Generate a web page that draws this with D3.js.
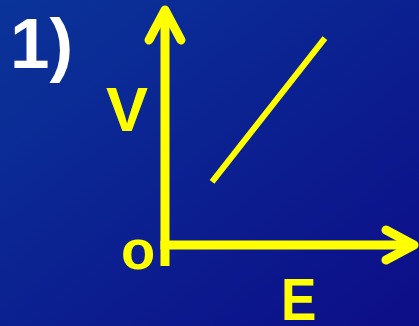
<!DOCTYPE html>
<html><head><meta charset="utf-8">
<script src="https://cdn.jsdelivr.net/npm/d3@7"></script>
<style>html,body{margin:0;padding:0;overflow:hidden;background:#0b2090}</style>
</head><body>
<script>
// Data
const eValues = [1.86, 6.32];   // E (x) values of the line
const vValues = [2.64, 8.66];   // V (y) values of the line
const axisLabels = ["V", "o", "E"];
const title = ["1)"];

const W = 419, H = 326;
const svg = d3.select("body").append("svg").attr("width", W).attr("height", H);

const defs = svg.append("defs");
const grad = defs.append("linearGradient").attr("id", "bg")
  .attr("x1", "0%").attr("y1", "0%").attr("x2", "100%").attr("y2", "100%");
grad.append("stop").attr("offset", "0%").attr("stop-color", "#0a3499");
grad.append("stop").attr("offset", "100%").attr("stop-color", "#0d0d88");
svg.append("rect").attr("width", W).attr("height", H).attr("fill", "url(#bg)");

const ox = 165, oy = 245;
const x = d3.scaleLinear().domain([0, 10]).range([ox, 418]);
const y = d3.scaleLinear().domain([0, 10]).range([oy, 6]);

const yellow = "#ffff00";

// Axes
const g = svg.append("g").attr("fill", "none").attr("stroke", yellow)
  .attr("stroke-width", 9);
g.append("path").attr("d", d3.line()([[x(0), y(-0.88)], [x(0), y(10) + 4]]))
  .attr("stroke-linecap", "butt");
g.append("path").attr("d", d3.line()([[x(0) - 16, y(10) + 34], [x(0), y(10) + 4], [x(0) + 16, y(10) + 34]]))
  .attr("stroke-linecap", "round").attr("stroke-linejoin", "round");
g.append("path").attr("d", d3.line()([[x(0) - 4.5, y(0)], [x(10) - 4, y(0)]]))
  .attr("stroke-linecap", "butt");
g.append("path").attr("d", d3.line()([[x(10) - 32, y(0) - 15], [x(10) - 4, y(0)], [x(10) - 32, y(0) + 15]]))
  .attr("stroke-linecap", "round").attr("stroke-linejoin", "round");

// Data line
svg.append("path")
  .attr("d", d3.line().x((d, i) => x(eValues[i])).y((d, i) => y(vValues[i]))(eValues))
  .attr("fill", "none").attr("stroke", yellow).attr("stroke-width", 6)
  .attr("stroke-linecap", "butt");

const font = "'Liberation Sans', Arial, sans-serif";
svg.append("text").text(title[0]).attr("x", 10).attr("y", 68)
  .attr("fill", "#ffffff").attr("font-family", font).attr("font-weight", "bold")
  .attr("font-size", 71);
svg.append("text").text(axisLabels[0]).attr("x", 106).attr("y", 131)
  .attr("fill", yellow).attr("font-family", font).attr("font-weight", "bold")
  .attr("font-size", 63);
svg.append("text").text(axisLabels[1]).attr("x", 121).attr("y", 269)
  .attr("fill", yellow).attr("font-family", font).attr("font-weight", "bold")
  .attr("font-size", 56);
svg.append("text").text(axisLabels[2])
  .attr("transform", "translate(281,320) scale(0.9,1)")
  .attr("fill", yellow).attr("font-family", font).attr("font-weight", "bold")
  .attr("font-size", 59);
</script>
</body></html>
